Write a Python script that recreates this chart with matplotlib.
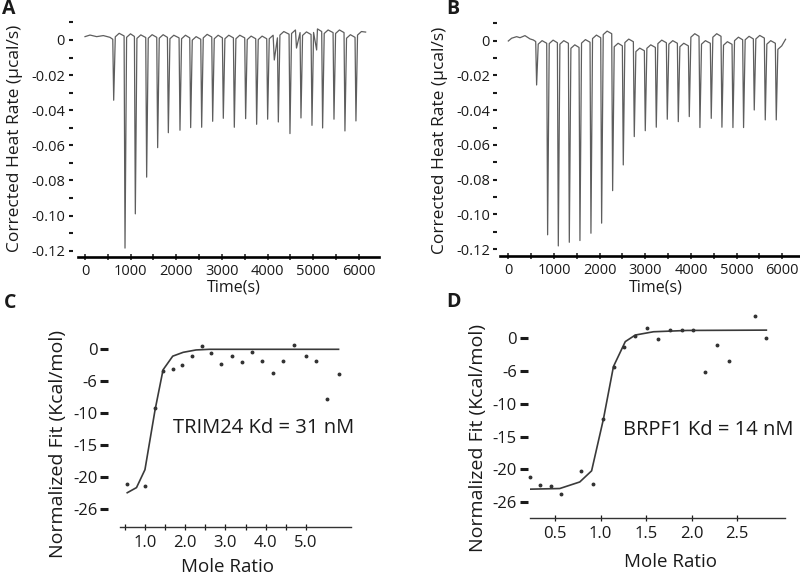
import numpy as np
import matplotlib.pyplot as plt

plt.rcParams['font.family'] = ['Open Sans', 'DejaVu Sans']

# ---- panel A: raw ITC trace (TRIM24) ----
a_lead_t = [0, 109, 256, 401, 547]
a_lead_y = [0.0019, 0.0028, 0.0019, 0.0025, 0.0015]
a_peak_t = [628, 876, 1102, 1350, 1591, 1825, 2080, 2314, 2555, 2796, 3029, 3270,
            3518, 3759, 4000, 4234, 4489, 4730, 4971, 5204, 5453, 5693, 5934]
a_peak_y = [-0.0343, -0.1185, -0.0990, -0.0781, -0.0613, -0.0528, -0.0514, -0.0499,
            -0.0497, -0.0463, -0.0446, -0.0497, -0.0448, -0.0480, -0.0451, -0.0467,
            -0.0533, -0.0444, -0.0486, -0.0501, -0.0451, -0.0518, -0.0461]
a_crest = [0.0019, 0.0038, 0.0035, 0.0029, 0.0030, 0.0030, 0.0027, 0.0027, 0.0019,
           0.0032, 0.0027, 0.0027, 0.0027, 0.0022, 0.0022, 0.0027, 0.0048, 0.0057,
           0.0046, 0.0063, 0.0057, 0.0057, 0.0030, 0.0048]
a_blip_t = [4146, 4632, 5073]
a_blip_y = [-0.0114, -0.0046, -0.0057]
a_end = (6146, 0.0045)

# ---- panel B: raw ITC trace (BRPF1) ----
b_lead_t = [0, 73, 182, 256, 365, 475, 548]
b_lead_y = [-0.0002, 0.0014, 0.0023, 0.0017, 0.0029, 0.0010, 0.0004]
b_peak_t = [620, 861, 1095, 1336, 1569, 1810, 2044, 2285, 2518, 2759, 3000, 3241,
            3482, 3723, 3964, 4197, 4445, 4679, 4920, 5153, 5387, 5628, 5869]
b_peak_y = [-0.0255, -0.1117, -0.1181, -0.1160, -0.1150, -0.1108, -0.1050, -0.0863,
            -0.0715, -0.0552, -0.0518, -0.0498, -0.0452, -0.0466, -0.0437, -0.0500,
            -0.0447, -0.0498, -0.0500, -0.0500, -0.0399, -0.0456, -0.0456]
b_crest = [0.0010, 0.0000, 0.0003, 0.0000, -0.0024, 0.0006, 0.0032, 0.0055, -0.0015,
           0.0009, -0.0043, -0.0024, 0.0003, 0.0000, -0.0015, 0.0040, 0.0000, 0.0040,
           -0.0006, 0.0020, 0.0025, 0.0030, 0.0000, -0.0030]
b_blip_t = []
b_blip_y = []
b_end = (6073, 0.0008)

heat_ticks = [0, -0.02, -0.04, -0.06, -0.08, -0.10, -0.12]
heat_labels = ['0', '-0.02', '-0.04', '-0.06', '-0.08', '-0.10', '-0.12']
time_ticks = [0, 1000, 2000, 3000, 4000, 5000, 6000]

# ---- panel C: integrated heats + fit (TRIM24) ----
c_ratio = [0.56, 1.00, 1.25, 1.45, 1.69, 1.92, 2.17, 2.41, 2.65, 2.90, 3.16, 3.41,
           3.66, 3.91, 4.17, 4.43, 4.70, 4.99, 5.26, 5.52, 5.81]
c_heat = [-21.0, -21.3, -9.2, -3.4, -3.1, -2.5, -1.0, 0.5, -0.6, -2.3, -1.1, -2.0,
          -0.4, -1.9, -3.7, -1.8, 0.7, -1.1, -1.9, -7.7, -3.9]
c_fit_x = [0.56, 0.79, 1.00, 1.25, 1.45, 1.69, 1.95, 2.27, 2.60, 5.81]
c_fit_y = [-22.4, -21.6, -18.8, -9.5, -3.2, -1.07, -0.47, -0.1, 0.0, 0.0]

# ---- panel D: integrated heats + fit (BRPF1) ----
d_ratio = [0.22, 0.33, 0.45, 0.56, 0.78, 0.91, 1.03, 1.15, 1.26, 1.38, 1.51, 1.63,
           1.76, 1.89, 2.01, 2.15, 2.28, 2.41, 2.69, 2.82]
d_heat = [-21.1, -22.4, -22.5, -23.7, -20.2, -22.2, -12.3, -4.3, -1.4, 0.35, 1.5,
          -0.1, 1.2, 1.3, 1.2, -5.2, -1.0, -3.4, 3.35, 0.1]
d_fit_x = [0.22, 0.55, 0.77, 0.90, 1.03, 1.14, 1.27, 1.38, 1.58, 1.95, 2.82]
d_fit_y = [-23.0, -22.9, -21.9, -20.2, -12.3, -4.3, -0.5, 0.5, 1.0, 1.2, 1.25]

fit_ticks = [0, -5, -10, -15, -20, -25]
fit_labels = ['0', '-6', '-10', '-15', '-20', '-26']


def trace(lead_t, lead_y, peak_t, peak_y, crest, blip_t, blip_y, end):
    t = list(lead_t)
    y = list(lead_y)
    for i in range(len(peak_t)):
        t += [peak_t[i] - 20, peak_t[i], peak_t[i] + 35, peak_t[i] + 120]
        y += [crest[i] - 0.0015, peak_y[i], crest[i + 1] - 0.002, crest[i + 1]]
    t += list(blip_t) + [end[0]]
    y += list(blip_y) + [end[1]]
    order = np.argsort(t)
    return np.array(t)[order], np.array(y)[order]


def rect(x0, x1, ytop, ybot):
    return [x0 / 800, 1 - ybot / 576, (x1 - x0) / 800, (ybot - ytop) / 576]


fig = plt.figure(figsize=(8, 5.76), dpi=100)
ink = '#1a1a1a'


def heat_panel(r, xlim, ylim, off, tlen, lead_t, lead_y, pt, py, cr, bt, by, end):
    ax = fig.add_axes(r)
    t, y = trace(lead_t, lead_y, pt, py, cr, bt, by, end)
    ax.plot(t, y, color='#5e5e5e', lw=0.9)
    ax.set_xlim(*xlim)
    ax.set_ylim(*ylim)
    for s in ['top', 'right', 'left']:
        ax.spines[s].set_visible(False)
    ax.spines['left'].set_position(('outward', off))
    ax.spines['bottom'].set_linewidth(1.9)
    ax.spines['bottom'].set_color('black')
    ax.set_yticks(heat_ticks)
    ax.set_yticklabels(heat_labels)
    ax.set_yticks([0.01, -0.01, -0.03, -0.05, -0.07, -0.09, -0.11], minor=True)
    ax.tick_params(axis='y', which='both', direction='out', length=tlen, width=1.5,
                   pad=2.4, labelsize=10.5, colors=ink)
    ax.set_xticks(time_ticks)
    ax.set_xticks([500, 1500, 2500, 3500, 4500, 5500], minor=True)
    ax.tick_params(axis='x', which='both', direction='inout', length=4.8, width=1.1,
                   pad=2.5, labelsize=10.5, colors=ink)
    return ax


heat_panel(rect(78.3, 379, 18.9, 256.7), (-147, 6439), (-0.1234, 0.012), 4.0, 3.2,
           a_lead_t, a_lead_y, a_peak_t, a_peak_y, a_crest, a_blip_t, a_blip_y, a_end)
heat_panel(rect(500, 800, 19.8, 256), (-182, 6389), (-0.1239, 0.012), 1.9, 2.9,
           b_lead_t, b_lead_y, b_peak_t, b_peak_y, b_crest, b_blip_t, b_blip_y, b_end)


def fit_panel(r, xlim, ylim, off, ratio, heat, fx, fy, major, major_lab, minor, note, note_xy):
    ax = fig.add_axes(r)
    ax.plot(fx, fy, color='#3a3a3a', lw=1.2)
    ax.plot(ratio, heat, 'o', ms=1.8, color='#333333', clip_on=False)
    ax.set_xlim(*xlim)
    ax.set_ylim(*ylim)
    for s in ['top', 'right', 'left']:
        ax.spines[s].set_visible(False)
    ax.spines['left'].set_position(('outward', off))
    ax.spines['bottom'].set_linewidth(1.0)
    ax.spines['bottom'].set_color('#333333')
    ax.set_yticks(fit_ticks)
    ax.set_yticklabels(fit_labels)
    ax.tick_params(axis='y', direction='out', length=5.8, width=2.2, pad=2.0,
                   labelsize=12, colors=ink)
    ax.set_xticks(major)
    ax.set_xticklabels(major_lab)
    ax.set_xticks(minor, minor=True)
    ax.tick_params(axis='x', which='both', direction='inout', length=5, width=0.9,
                   pad=3, labelsize=12, colors=ink)
    ax.text(note_xy[0], note_xy[1], note, fontsize=14.5, color=ink, ha='left', va='center')
    return ax


fit_panel(rect(120, 351.4, 323.7, 527.3), (0.38, 6.129), (-27.8, 4), 8.4,
          c_ratio, c_heat, c_fit_x, c_fit_y,
          [1, 2, 3, 4, 5], ['1.0', '2.0', '3.0', '4.0', '5.0'],
          [0.5, 1.5, 2.5, 3.5, 4.5], 'TRIM24 Kd = 31 nM', (1.69, -12.3))
fit_panel(rect(530, 785, 308.8, 518.3), (0.223, 3.025), (-27.44, 4.5), 1.7,
          d_ratio, d_heat, d_fit_x, d_fit_y,
          [0.5, 1.0, 1.5, 2.0, 2.5], ['0.5', '1.0', '1.5', '2.0', '2.5'],
          [], 'BRPF1 Kd = 14 nM', (1.242, -14.0))

# axis titles and panel letters, placed in pixel coordinates
def ftext(x, y, s, **kw):
    fig.text(x / 800, 1 - y / 576, s, ha='center', va='center', color=ink, **kw)

ftext(15, 138.5, 'Corrected Heat Rate (\u00b5cal/s)', rotation=90, fontsize=12.5)
ftext(440, 140, 'Corrected Heat Rate (\u00b5cal/s)', rotation=90, fontsize=12.5)
ftext(234, 288, 'Time(s)', fontsize=11.5)
ftext(656, 288, 'Time(s)', fontsize=11.5)
ftext(58, 443.5, 'Normalized Fit (Kcal/mol)', rotation=90, fontsize=14)
ftext(478, 437.5, 'Normalized Fit (Kcal/mol)', rotation=90, fontsize=14)
ftext(228, 566.7, 'Mole Ratio', fontsize=13.5)
ftext(670, 561.7, 'Mole Ratio', fontsize=13.5)
ftext(9, 9, 'A', fontsize=14, fontweight='bold')
ftext(453, 9, 'B', fontsize=14, fontweight='bold')
ftext(10, 303, 'C', fontsize=14, fontweight='bold')
ftext(453, 302, 'D', fontsize=14, fontweight='bold')

fig.savefig('out.png', dpi=100)
